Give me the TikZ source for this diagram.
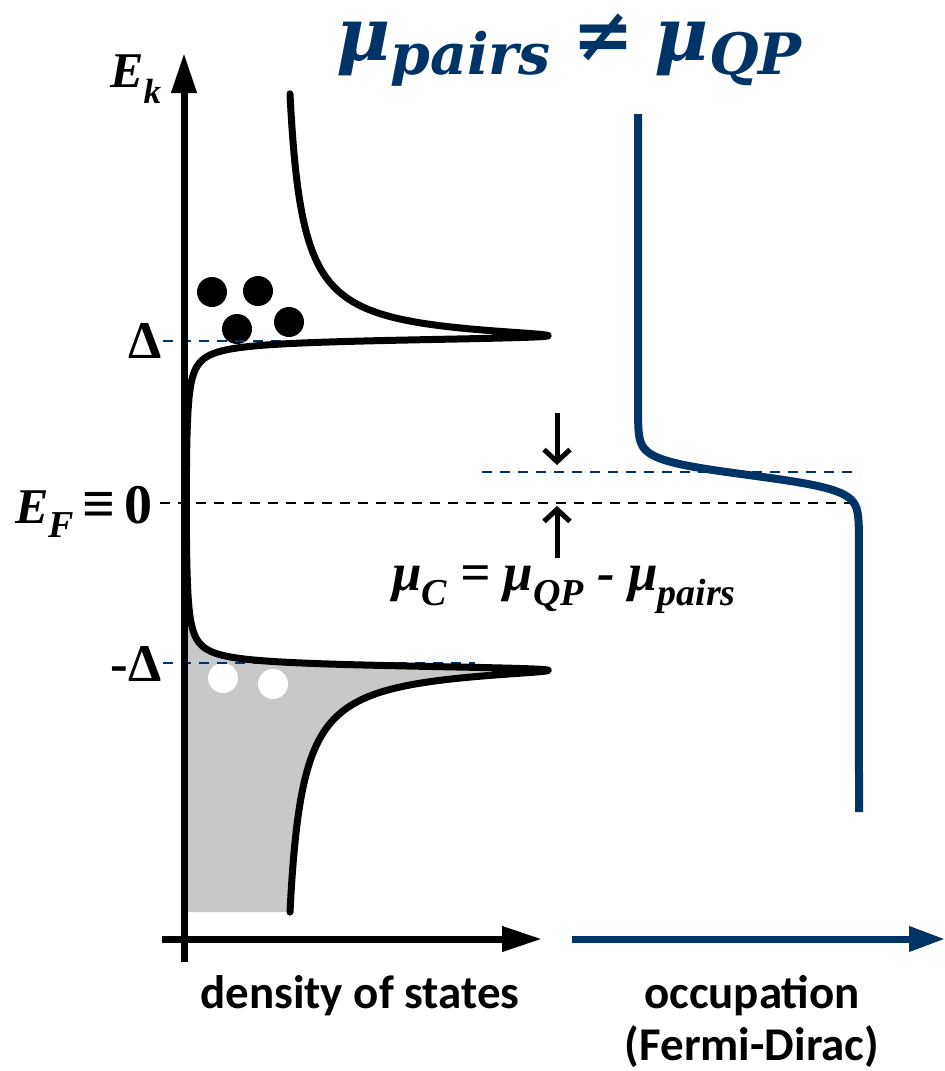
\documentclass[tikz,border=0pt]{standalone}
\usepackage{fontspec}
\setmainfont{Liberation Serif}
\newfontfamily\serfont{Liberation Serif}
\newfontfamily\labfont{Carlito}
\newfontfamily\titlefont{DejaVu Serif}
\usetikzlibrary{arrows.meta}
\definecolor{qblue}{RGB}{0,51,102}
\definecolor{fillgray}{RGB}{199,200,202}
\newcommand{\lowsub}[3]{\raisebox{-#1pt}{\fontsize{#2}{#2}\selectfont #3}}
\begin{document}
\begin{tikzpicture}[x=1pt,y=-1pt,
  axisline/.style={line width=7pt, -{Triangle[length=40pt,width=24pt]}},
  blueaxis/.style={line width=7pt, draw=qblue, -{Triangle[length=36pt,width=24pt]}, color=qblue},
  dosline/.style={line width=7pt, line join=round, line cap=round},
  fdline/.style={line width=8pt, draw=qblue, line join=round},
  bluedash/.style={draw=qblue, line width=2.5pt, dash pattern=on 10pt off 8pt},
  blackdash/.style={draw=black, line width=2.5pt, dash pattern=on 10pt off 8pt},
  smallarrow/.style={line width=5pt, -{Straight Barb[length=12pt,width=26pt]}},
  serlabel/.style={inner sep=0pt, font=\serfont\fontsize{50}{50}\selectfont\bfseries},
  botlabel/.style={inner sep=0pt, font=\labfont\fontsize{47}{47}\selectfont\bfseries},
  declare function={
    gam=0.024;
    dA(\e)=\e*\e-gam*gam-1;
    dB(\e)=2*abs(\e)*gam;
    dW(\e)=veclen(dA(\e),dB(\e));
    dP(\e)=sqrt(max(0,(dW(\e)+dA(\e))/2));
    dQ(\e)=sqrt(max(0,(dW(\e)-dA(\e))/2));
    dN(\e)=(abs(\e)*dP(\e)+gam*dQ(\e))/dW(\e);
    fd(\y)=638+221/(1+exp(-(\y-475)/7.5));
  }]
\useasboundingbox (0,0) rectangle (945,1071);

% occupied states (grey)
\fill[fillgray] (184,503)
  -- plot[domain=0:-0.8, samples=60] ({184+97*dN(\x)},{503-165*\x})
  -- plot[domain=-0.8:-1.2, samples=300] ({184+97*dN(\x)},{503-165*\x})
  -- plot[domain=-1.2:-2.48, samples=60] ({184+97*dN(\x)},{503-165*\x})
  -- (184,912) -- cycle;

% quasiparticles and holes
\fill[black] (212,292) circle (15);
\fill[black] (258,291) circle (15);
\fill[black] (237,329) circle (15);
\fill[black] (289,322) circle (15);
\fill[white] (223,678) circle (15);
\fill[white] (273,684) circle (15);

% dashed levels
\coordinate (dL) at (163,341); \coordinate (dR) at (475,341);
\coordinate (mdL) at (163,663); \coordinate (mdR) at (475,663);
\coordinate (fL) at (160,503); \coordinate (fR) at (860,503);
\coordinate (mL) at (482,472); \coordinate (mR) at (860,472);
\draw[bluedash] (dL) -- (dR);
\draw[bluedash] (mdL) -- (mdR);
\draw[blackdash] (fL) -- (fR);
\draw[bluedash] (mL) -- (mR);

% DOS curve
\draw[dosline] plot[domain=2.48:1.2, samples=60] ({184+97*dN(\x)},{503-165*\x})
  -- plot[domain=1.2:0.8, samples=300] ({184+97*dN(\x)},{503-165*\x})
  -- plot[domain=0.8:-0.8, samples=80] ({184+97*dN(\x)},{503-165*\x})
  -- plot[domain=-0.8:-1.2, samples=300] ({184+97*dN(\x)},{503-165*\x})
  -- plot[domain=-1.2:-2.48, samples=60] ({184+97*dN(\x)},{503-165*\x});

% Fermi-Dirac occupation
\coordinate (fdT) at (638,114);
\coordinate (fdB) at (859,812);
\draw[fdline] (fdT) -- plot[domain=415:535, samples=120] ({fd(\x)},{\x}) -- (fdB);

% axes
\coordinate (yB) at (184,962); \coordinate (yT) at (184,53);
\coordinate (xL) at (162,939); \coordinate (xR) at (542,939);
\coordinate (oL) at (572,939); \coordinate (oR) at (945,939);
\draw[axisline] (yB) -- (yT);
\draw[axisline] (xL) -- (xR);
\draw[blueaxis] (oL) -- (oR);

% mu_C arrows
\coordinate (a1) at (557,413); \coordinate (a1t) at (557,465);
\coordinate (a2) at (557,558); \coordinate (a2t) at (557,506);
\draw[smallarrow] (a1) -- (a1t);
\draw[smallarrow] (a2) -- (a2t);

% labels
\node[serlabel, anchor=base west] (ek) at (110,87) {\itshape E\lowsub{16}{35}{k}};
\node[serlabel, anchor=base east, font=\serfont\fontsize{53}{53}\selectfont\bfseries] (del) at (162,358) {Δ};
\node[serlabel, anchor=base east, font=\serfont\fontsize{53}{53}\selectfont\bfseries] (mdel) at (162,681) {-Δ};
\node[serlabel, anchor=base west] (ef) at (15,523) {\textit{E}\lowsub{14}{38}{\textit{F}}\hspace{9pt}{\fontsize{58}{58}\selectfont ≡}\hspace{9pt}{\fontsize{56}{56}\selectfont 0}};
\node[serlabel, anchor=base west, font=\serfont\fontsize{53}{53}\selectfont\bfseries] (muc) at (392,590) {\itshape μ\lowsub{15}{38}{C} = μ\lowsub{15}{38}{QP} - μ\lowsub{15}{38}{pairs}};
\node[inner sep=0pt, anchor=base west, text=qblue, font=\titlefont\fontsize{74}{74}\selectfont\bfseries\itshape] (title) at (336,60)
  {μ\lowsub{14}{57}{pairs}\hspace{22pt}≠\hspace{20pt}μ\lowsub{14}{57}{QP}};
\node[botlabel, anchor=base west] (dos) at (200,1008) {density of states};
\node[botlabel, anchor=base] (occ) at (752,1008) {occupation};
\node[botlabel, anchor=base] (fdl) at (752,1060) {(Fermi-Dirac)};
\end{tikzpicture}
\end{document}
